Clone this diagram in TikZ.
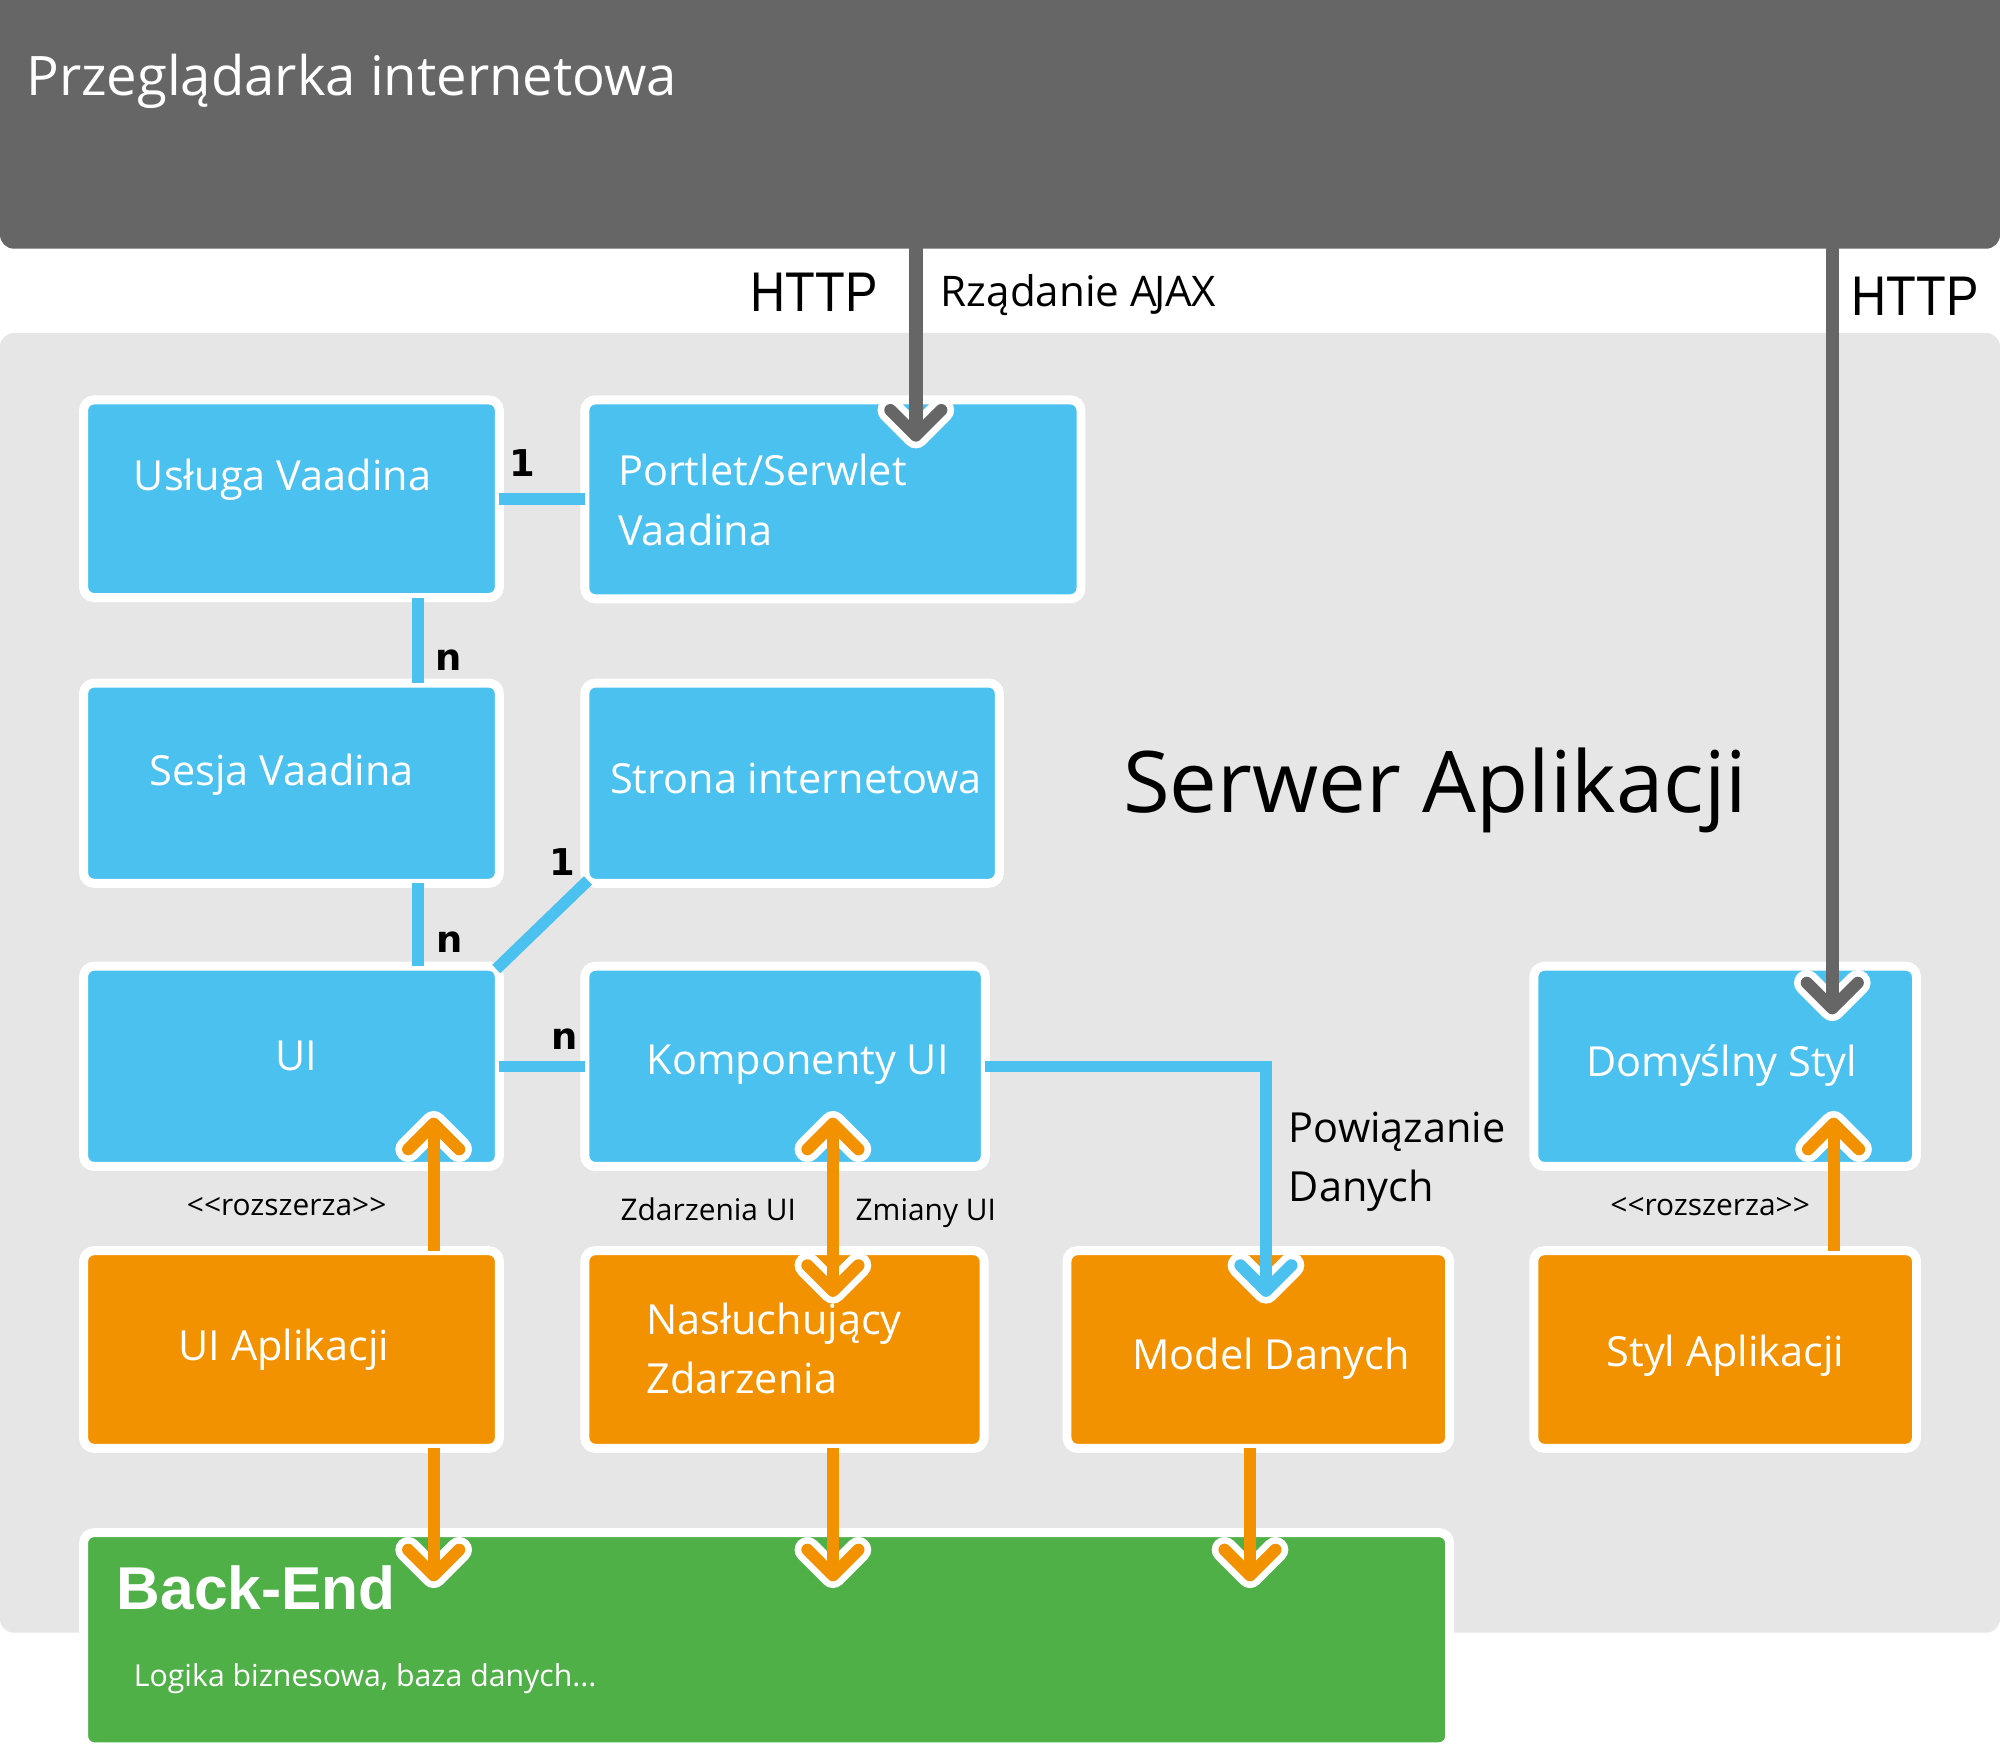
\documentclass[tikz,border=0pt]{standalone}
\usepackage{fontspec}
\setmainfont{Open Sans}
\newfontfamily\arialf{Liberation Sans}
\newfontfamily\dejaf{DejaVu Sans}
\usetikzlibrary{calc,fit}
\definecolor{barg}{HTML}{666666}
\definecolor{srvg}{HTML}{E6E6E6}
\definecolor{vblue}{HTML}{4BC1F0}
\definecolor{vorange}{HTML}{F39200}
\definecolor{vgreen}{HTML}{50B048}
\newcommand{\rozsz}{<\kern0pt<rozszerza>\kern0pt>}
\begin{document}
\begin{tikzpicture}[x=0.012755cm, y=-0.012755cm,
  pane/.style={inner sep=0pt, rounded corners=4pt, draw=none},
  boxbase/.style={rectangle, draw=white, line width=2.55pt, rounded corners=3pt, inner sep=0pt},
  bluebox/.style={boxbase, fill=vblue},
  orangebox/.style={boxbase, fill=vorange},
  greenbox/.style={boxbase, fill=vgreen},
  wtext/.style={text=white, inner sep=0pt, anchor=base west, align=left, font=\fontsize{11.8}{16.9}\selectfont},
  btext/.style={text=black, inner sep=0pt, anchor=base west, align=left, font=\fontsize{11.8}{16.9}\selectfont},
  smalltext/.style={text=black, inner sep=0pt, anchor=base west, font=\fontsize{8.5}{10}\selectfont},
  numl/.style={text=black, inner sep=0pt, anchor=base west, font=\dejaf\bfseries\fontsize{10.5}{12}\selectfont},
  httpl/.style={text=black, inner sep=0pt, anchor=base west, font=\arialf\fontsize{15.9}{18}\selectfont},
  conn/.style={draw=vblue, line width=3.3pt},
  oarr/.style={draw=vorange, line width=3.45pt},
  garr/.style={draw=barg, line width=3.8pt},
  ext/.style={shorten <=-1.3pt, shorten >=-1.3pt},
  exts/.style={shorten <=-1.3pt},
  pics/chev/.style={code={
    \draw[white, line width=7.3pt, line cap=round, line join=round] (-20,-20) -- (0,0) -- (20,-20);
    \draw[#1, line width=3.45pt, line cap=round, line join=round] (-20,-20) -- (0,0) -- (20,-20);
  }}
]
\useasboundingbox (0,0) rectangle (1568,1374.4);
\fill[white] (0,0) rectangle (1568,1374.4);

% panes
\node[pane, fill=srvg, fit={(0,261) (1568,1280)}] (server) {};
\node[pane, fill=barg, fit={(0,-30) (1568,195)}] (browser) {};

% blue boxes
\node[bluebox, fit={(65.5,313.5) (391.5,468.5)}] (usluga) {};
\node[bluebox, fit={(458.5,313.5) (847.5,469.5)}] (portlet) {};
\node[bluebox, fit={(65.5,535.5) (391.5,692.5)}] (sesja) {};
\node[bluebox, fit={(458.5,535.5) (783.5,692.5)}] (strona) {};
\node[bluebox, fit={(65.5,757.5) (391.5,914.5)}] (ui) {};
\node[bluebox, fit={(458.5,757.5) (772.5,914.5)}] (komp) {};
\node[bluebox, fit={(1202.5,757.5) (1502.5,914.5)}] (domyslny) {};
% orange boxes
\node[orangebox, fit={(65.5,980.5) (391.5,1135.5)}] (uiapp) {};
\node[orangebox, fit={(458.5,980.5) (771.5,1135.5)}] (nasl) {};
\node[orangebox, fit={(836.5,980.5) (1136.5,1135.5)}] (model) {};
\node[orangebox, fit={(1202.5,980.5) (1502.5,1135.5)}] (styl) {};
% green box
\node[greenbox, fit={(65.5,1201.5) (1136.5,1369.5)}] (backend) {};

% blue connectors
\coordinate (vx) at (327.5,0);
\draw[conn, ext] (usluga.east) -- (usluga.east -| portlet.west);
\draw[conn, ext] (usluga.south -| vx) -- (sesja.north -| vx);
\draw[conn, ext] (sesja.south -| vx) -- (ui.north -| vx);
\draw[conn, shorten <=-3pt, shorten >=-3pt] (ui.north east) -- (strona.south west);
\draw[conn, ext] (ui.east) -- (komp.west);

% blue arrow to Model Danych
\coordinate (bx) at (992.5,0);
\coordinate (mtip) at ($(model.north -| bx)+(0,35)$);
\pic at (mtip) {chev=vblue};
\draw[conn, exts] (komp.east) -| (mtip);

% orange arrows
\coordinate (ox1) at (340,0);
\coordinate (ox2) at (653,0);
\coordinate (ox3) at (980,0);
\coordinate (ox4) at (1437.5,0);
\coordinate (t1) at ($(ui.south -| ox1)+(0,-37)$);
\coordinate (t2u) at ($(komp.south -| ox2)+(0,-37)$);
\coordinate (t2d) at ($(nasl.north -| ox2)+(0,35)$);
\coordinate (t4) at ($(domyslny.south -| ox4)+(0,-37)$);
\coordinate (b1) at ($(backend.north -| ox1)+(0,37)$);
\coordinate (b2) at ($(backend.north -| ox2)+(0,37)$);
\coordinate (b3) at ($(backend.north -| ox3)+(0,37)$);

\pic[rotate=180] at (t1) {chev=vorange};
\draw[oarr, exts] (uiapp.north -| ox1) -- (t1);
\pic[rotate=180] at (t2u) {chev=vorange};
\pic at (t2d) {chev=vorange};
\draw[oarr] (t2u) -- (t2d);
\pic[rotate=180] at (t4) {chev=vorange};
\draw[oarr, exts] (styl.north -| ox4) -- (t4);
\pic at (b1) {chev=vorange};
\draw[oarr, exts] (uiapp.south -| ox1) -- (b1);
\pic at (b2) {chev=vorange};
\draw[oarr, exts] (nasl.south -| ox2) -- (b2);
\pic at (b3) {chev=vorange};
\draw[oarr, exts] (model.south -| ox3) -- (b3);

% gray HTTP arrows
\coordinate (gx1) at (718,0);
\coordinate (gx2) at (1436.5,0);
\coordinate (g1) at ($(portlet.north -| gx1)+(0,31.5)$);
\coordinate (g2) at ($(domyslny.north -| gx2)+(0,36.5)$);
\pic at (g1) {chev=barg};
\draw[garr, shorten <=-1pt] (browser.south -| gx1) -- (g1);
\pic at (g2) {chev=barg};
\draw[garr, shorten <=-1pt] (browser.south -| gx2) -- (g2);

% titles
\node[text=white, inner sep=0pt, anchor=base west, font=\fontsize{15.5}{18}\selectfont] (t-brow) at (20,74.5) {Przeglądarka internetowa};
\node[text=black, inner sep=0pt, anchor=base west, font=\fontsize{24.2}{28}\selectfont] (t-srv) at (880,636.6) {Serwer Aplikacji};
\node[httpl] (t-http1) at (588,244.4) {\scalebox{0.87}[1]{HTTP}};
\node[httpl] (t-http2) at (1451,247) {\scalebox{0.87}[1]{HTTP}};
\node[btext, font=\fontsize{12}{14}\selectfont] (t-ajax) at (737,240.4) {Rządanie A\kern-0.9pt JAX};

% box texts (multi-line nodes are anchored at the baseline of their last line)
\node[wtext] (t-usl) at (104.5,384.4) {Usługa Vaadina};
\node[wtext] (t-por) at (484,427.3) {Portlet/Serwlet\\Vaadina};
\node[wtext] (t-ses) at (116.6,616) {Sesja Vaadina};
\node[wtext] (t-str) at (477.8,622.1) {Strona internetowa};
\node[wtext] (t-ui) at (215.3,839.6) {UI};
\node[wtext] (t-kom) at (506.6,842) {Komponenty UI};
\node[wtext] (t-dom) at (1243,844.3) {Domyślny Styl};
\node[wtext] (t-uia) at (139.5,1066.9) {UI Aplikacji};
\node[wtext] (t-nas) at (506.3,1092.5) {Nasłuchujący\\Zdarzenia};
\node[wtext] (t-mod) at (887.3,1073.5) {Model Danych};
\node[wtext] (t-sty) at (1259,1071.5) {Styl Aplikacji};
\node[text=white, inner sep=0pt, anchor=base west, font=\arialf\bfseries\fontsize{17.2}{20}\selectfont] (t-be) at (91,1262) {Back-End};
\node[text=white, inner sep=0pt, anchor=base west, font=\fontsize{8.6}{10}\selectfont] (t-log) at (104.5,1322) {Logika biznesowa, baza danych...};

% connector labels
\node[btext] (t-pow) at (1010,942.3) {Powiązanie\\Danych};
\node[smalltext] (t-roz1) at (146,953) {\rozsz};
\node[smalltext] (t-roz2) at (1262,953) {\rozsz};
\node[smalltext] (t-zdu) at (486,956.5) {Zdarzenia UI};
\node[smalltext] (t-zmu) at (670.3,956.5) {Zmiany UI};
\node[numl] (n1) at (398.7,373.6) {1};
\node[numl] (n2) at (341,526) {n};
\node[numl] (n3) at (341.3,746.6) {n};
\node[numl] (n4) at (430.5,686.6) {1};
\node[numl] (n5) at (431.6,823) {n};
\end{tikzpicture}
\end{document}
